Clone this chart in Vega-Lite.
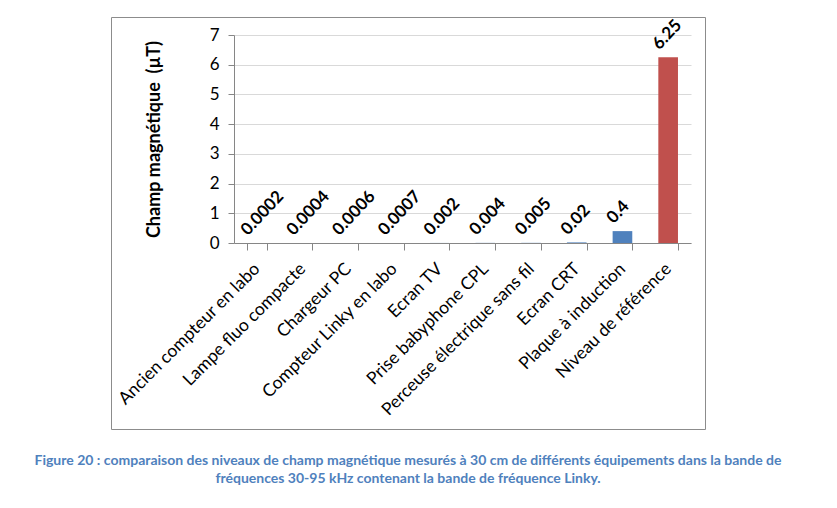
{
  "$schema": "https://vega.github.io/schema/vega-lite/v6.json",
  "width": 594,
  "height": 412,
  "autosize": {"type": "none"},
  "padding": {"left": 111, "top": 17, "right": 132, "bottom": 79},
  "background": "white",
  "config": {"view": {"stroke": "#8c8c8c", "strokeWidth": 1}, "font": "Lato"},
  "title": {
    "text": ["Figure 20 : comparaison des niveaux de champ magnétique mesurés à 30 cm de différents équipements dans la bande de", "fréquences 30-95 kHz contenant la bande de fréquence Linky."],
    "orient": "bottom",
    "anchor": "middle",
    "font": "Lato",
    "fontSize": 14,
    "fontWeight": "bold",
    "color": "#4f81bd",
    "offset": 25,
    "lineHeight": 18,
    "baseline": "top"
  },
  "data": {
    "values": [
      {"equipement": "Ancien compteur en labo", "valeur": 0.0002, "type": "mesure"},
      {"equipement": "Lampe fluo compacte", "valeur": 0.0004, "type": "mesure"},
      {"equipement": "Chargeur PC", "valeur": 0.0006, "type": "mesure"},
      {"equipement": "Compteur Linky en labo", "valeur": 0.0007, "type": "mesure"},
      {"equipement": "Ecran TV", "valeur": 0.002, "type": "mesure"},
      {"equipement": "Prise babyphone CPL", "valeur": 0.004, "type": "mesure"},
      {"equipement": "Perceuse électrique sans fil", "valeur": 0.005, "type": "mesure"},
      {"equipement": "Ecran CRT", "valeur": 0.02, "type": "mesure"},
      {"equipement": "Plaque à induction", "valeur": 0.4, "type": "mesure"},
      {"equipement": "Niveau de référence", "valeur": 6.25, "type": "référence"}
    ]
  },
  "encoding": {
    "x": {
      "field": "equipement",
      "type": "nominal",
      "sort": null,
      "scale": {"range": [123, 580], "paddingInner": 0.57, "paddingOuter": 0.285},
      "axis": {
        "title": null,
        "orient": "bottom",
        "offset": -186,
        "labelAngle": -45,
        "labelAlign": "right",
        "labelBaseline": "middle",
        "labelFont": "Lato",
        "labelFontSize": 17.5,
        "labelColor": "black",
        "labelPadding": 16,
        "labelLimit": 400,
        "tickBand": "extent",
        "tickSize": 7,
        "tickColor": "#868686",
        "domainColor": "#868686",
        "grid": false
      }
    },
    "y": {
      "field": "valeur",
      "type": "quantitative",
      "scale": {"domain": [0, 7], "range": [226, 18], "nice": false},
      "axis": {
        "title": "Champ magnétique \u00a0(µT)",
        "values": [0, 1, 2, 3, 4, 5, 6, 7],
        "offset": -123,
        "grid": true,
        "gridColor": "#d9d9d9",
        "domainColor": "#868686",
        "tickColor": "#868686",
        "tickSize": 6,
        "labelFont": "Lato",
        "labelFontSize": 17,
        "labelColor": "black",
        "labelPadding": 9,
        "titleFont": "Lato",
        "titleFontSize": 18,
        "titleFontWeight": "bold",
        "titleColor": "black",
        "titlePadding": 46
      }
    }
  },
  "layer": [
    {
      "mark": {"type": "bar"},
      "encoding": {
        "color": {
          "field": "type",
          "type": "nominal",
          "scale": {"domain": ["mesure", "référence"], "range": ["#4f81bd", "#c0504d"]},
          "legend": null
        }
      }
    },
    {
      "mark": {"type": "text", "angle": 313, "align": "left", "baseline": "middle", "dx": -1, "dy": -16, "font": "Lato", "fontSize": 17, "fontWeight": "bold", "color": "black"},
      "encoding": {
        "text": {"field": "valeur", "type": "quantitative", "format": "~g"}
      }
    }
  ]
}
